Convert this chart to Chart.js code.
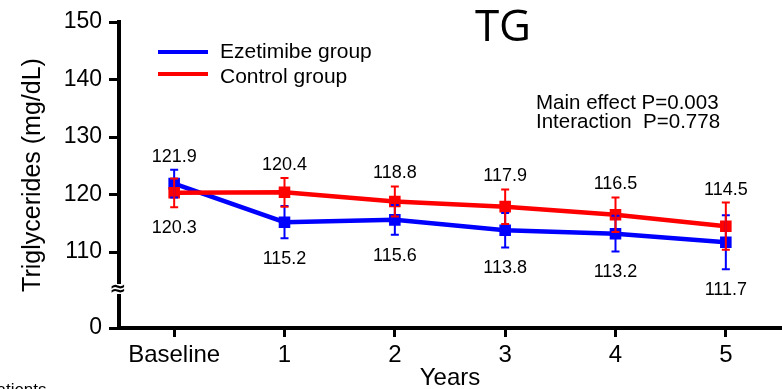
<!DOCTYPE html>
<html lang="en">
<head>
  <meta charset="UTF-8" />
  <title>TG</title>
  <style>
    html, body { margin: 0; padding: 0; background: #fff; }
    #wrap { width: 782px; height: 389px; }
  </style>
</head>
<body>
  <div id="wrap"><canvas id="tgChart" width="782" height="389"></canvas></div>

  <script src="https://cdn.jsdelivr.net/npm/chart.js"></script>
  <script>
    // follow-up points and mean triglycerides (mg/dL)
    const categories = ['Baseline', '1', '2', '3', '4', '5'];
    const ezetimibe = [121.9, 115.2, 115.6, 113.8, 113.2, 111.7];
    const control = [120.3, 120.4, 118.8, 117.9, 116.5, 114.5];
    // error bar half-lengths
    const ezetimibeErr = [2.4, 2.8, 2.6, 3.0, 3.1, 4.7];
    const controlErr = [2.5, 2.5, 2.6, 3.0, 3.0, 4.1];
    const yTicks = [110, 120, 130, 140, 150];

    // the axis is broken below 110; the bottom of the scale is labelled 0
    const breakFloor = 96.8;

    const FONT = '"Liberation Sans", Arial, sans-serif';

    const overlay = {
      id: 'overlay',
      afterDatasetsDraw(chart) {
        const ctx = chart.ctx;
        const y = chart.scales.y;
        const errs = [ezetimibeErr, controlErr];
        ctx.save();
        chart.data.datasets.forEach((ds, di) => {
          const meta = chart.getDatasetMeta(di);
          ctx.strokeStyle = ds.borderColor;
          ctx.lineWidth = 2;
          meta.data.forEach((pt, i) => {
            const v = ds.data[i];
            const top = y.getPixelForValue(v + errs[di][i]);
            const bot = y.getPixelForValue(v - errs[di][i]);
            ctx.beginPath();
            ctx.moveTo(pt.x, top); ctx.lineTo(pt.x, bot);
            ctx.moveTo(pt.x - 4, top); ctx.lineTo(pt.x + 4, top);
            ctx.moveTo(pt.x - 4, bot); ctx.lineTo(pt.x + 4, bot);
            ctx.stroke();
          });
        });

        // value labels: higher series above its bar, lower series below
        ctx.fillStyle = '#000';
        ctx.font = '18px ' + FONT;
        ctx.textAlign = 'center';
        ctx.textBaseline = 'middle';
        const x = chart.scales.x;
        categories.forEach((c, i) => {
          const px = x.getPixelForValue(i);
          const pairs = [[ezetimibe[i], ezetimibeErr[i]], [control[i], controlErr[i]]];
          pairs.sort((a, b) => b[0] - a[0]);
          const hi = pairs[0], lo = pairs[1];
          ctx.fillText(hi[0].toFixed(1), px, y.getPixelForValue(hi[0] + hi[1]) - 13);
          ctx.fillText(lo[0].toFixed(1), px, y.getPixelForValue(lo[0] - lo[1]) + 21);
        });
        ctx.restore();
      },
      afterDraw(chart) {
        const ctx = chart.ctx;
        const area = chart.chartArea;
        ctx.save();
        ctx.fillStyle = '#000';

        // title
        ctx.font = '44px "Open Sans", sans-serif';
        ctx.textAlign = 'center';
        ctx.textBaseline = 'alphabetic';
        ctx.fillText('TG', 503, 41);

        // legend
        ctx.font = '21px ' + FONT;
        ctx.textAlign = 'left';
        const rows = [[52, 58], [74, 83]];
        chart.data.datasets.forEach((ds, di) => {
          ctx.strokeStyle = ds.borderColor;
          ctx.lineWidth = 4;
          ctx.beginPath();
          ctx.moveTo(158, rows[di][0]);
          ctx.lineTo(208, rows[di][0]);
          ctx.stroke();
          ctx.fillText(ds.label, 220, rows[di][1]);
        });

        // statistics
        ctx.font = '20.5px ' + FONT;
        ctx.fillText('Main effect P=0.003', 536, 109);
        ctx.fillText('Interaction  P=0.778', 536, 128);

        // axis titles
        ctx.font = '24px ' + FONT;
        ctx.textAlign = 'center';
        ctx.fillText('Years', (area.left + area.right) / 2, 385);
        ctx.save();
        ctx.translate(40, (area.top + area.bottom) / 2);
        ctx.rotate(-Math.PI / 2);
        ctx.font = '25px ' + FONT;
        ctx.fillText('Triglycerides (mg/dL)', 0, 0);
        ctx.restore();

        // axis break mark
        ctx.fillStyle = '#fff';
        ctx.fillRect(area.left - 3, 284, 6, 10);
        ctx.fillStyle = '#000';
        ctx.font = 'bold 20px "DejaVu Sans", sans-serif';
        ctx.textBaseline = 'middle';
        ctx.fillText('\u2248', area.left - 1, 290);

        // caption fragment at the page edge
        ctx.font = '17px ' + FONT;
        ctx.textAlign = 'left';
        ctx.textBaseline = 'alphabetic';
        ctx.fillText('patients', -13, 395);
        ctx.restore();
      }
    };

    new Chart(document.getElementById('tgChart'), {
      type: 'line',
      data: {
        labels: categories,
        datasets: [
          {
            label: 'Ezetimibe group',
            data: ezetimibe,
            borderColor: '#0000ff',
            backgroundColor: '#0000ff',
            borderWidth: 4.5,
            pointStyle: 'rect',
            pointRadius: 5,
            order: 1
          },
          {
            label: 'Control group',
            data: control,
            borderColor: '#ff0000',
            backgroundColor: '#ff0000',
            borderWidth: 4.5,
            pointStyle: 'rect',
            pointRadius: 5,
            order: 0
          }
        ]
      },
      options: {
        responsive: false,
        animation: false,
        layout: { autoPadding: false, padding: { top: 22, right: 1, left: 0, bottom: 0 } },
        plugins: {
          legend: { display: false },
          tooltip: { enabled: false }
        },
        scales: {
          x: {
            offset: true,
            grid: {
              offset: false,
              drawOnChartArea: false,
              tickLength: 9,
              tickColor: '#000',
              tickWidth: 3
            },
            border: { color: '#000', width: 4 },
            ticks: { color: '#000', font: { family: FONT, size: 24 }, padding: 4, maxRotation: 0 },
            afterFit(scale) {
              scale.height = 61;
              scale.paddingLeft = 0;
              scale.paddingRight = 0;
            }
          },
          y: {
            min: breakFloor,
            max: 150,
            afterBuildTicks(scale) {
              scale.ticks = [breakFloor].concat(yTicks).map(v => ({ value: v }));
            },
            grid: {
              drawOnChartArea: false,
              tickLength: 10,
              tickColor: '#000',
              tickWidth: 3
            },
            border: { color: '#000', width: 4 },
            ticks: {
              color: '#000',
              font: { family: FONT, size: 23 },
              padding: 7,
              callback: v => (v === breakFloor ? '0' : v)
            },
            afterFit(scale) { scale.width = 119; }
          }
        }
      },
      plugins: [overlay]
    });
  </script>
</body>
</html>
